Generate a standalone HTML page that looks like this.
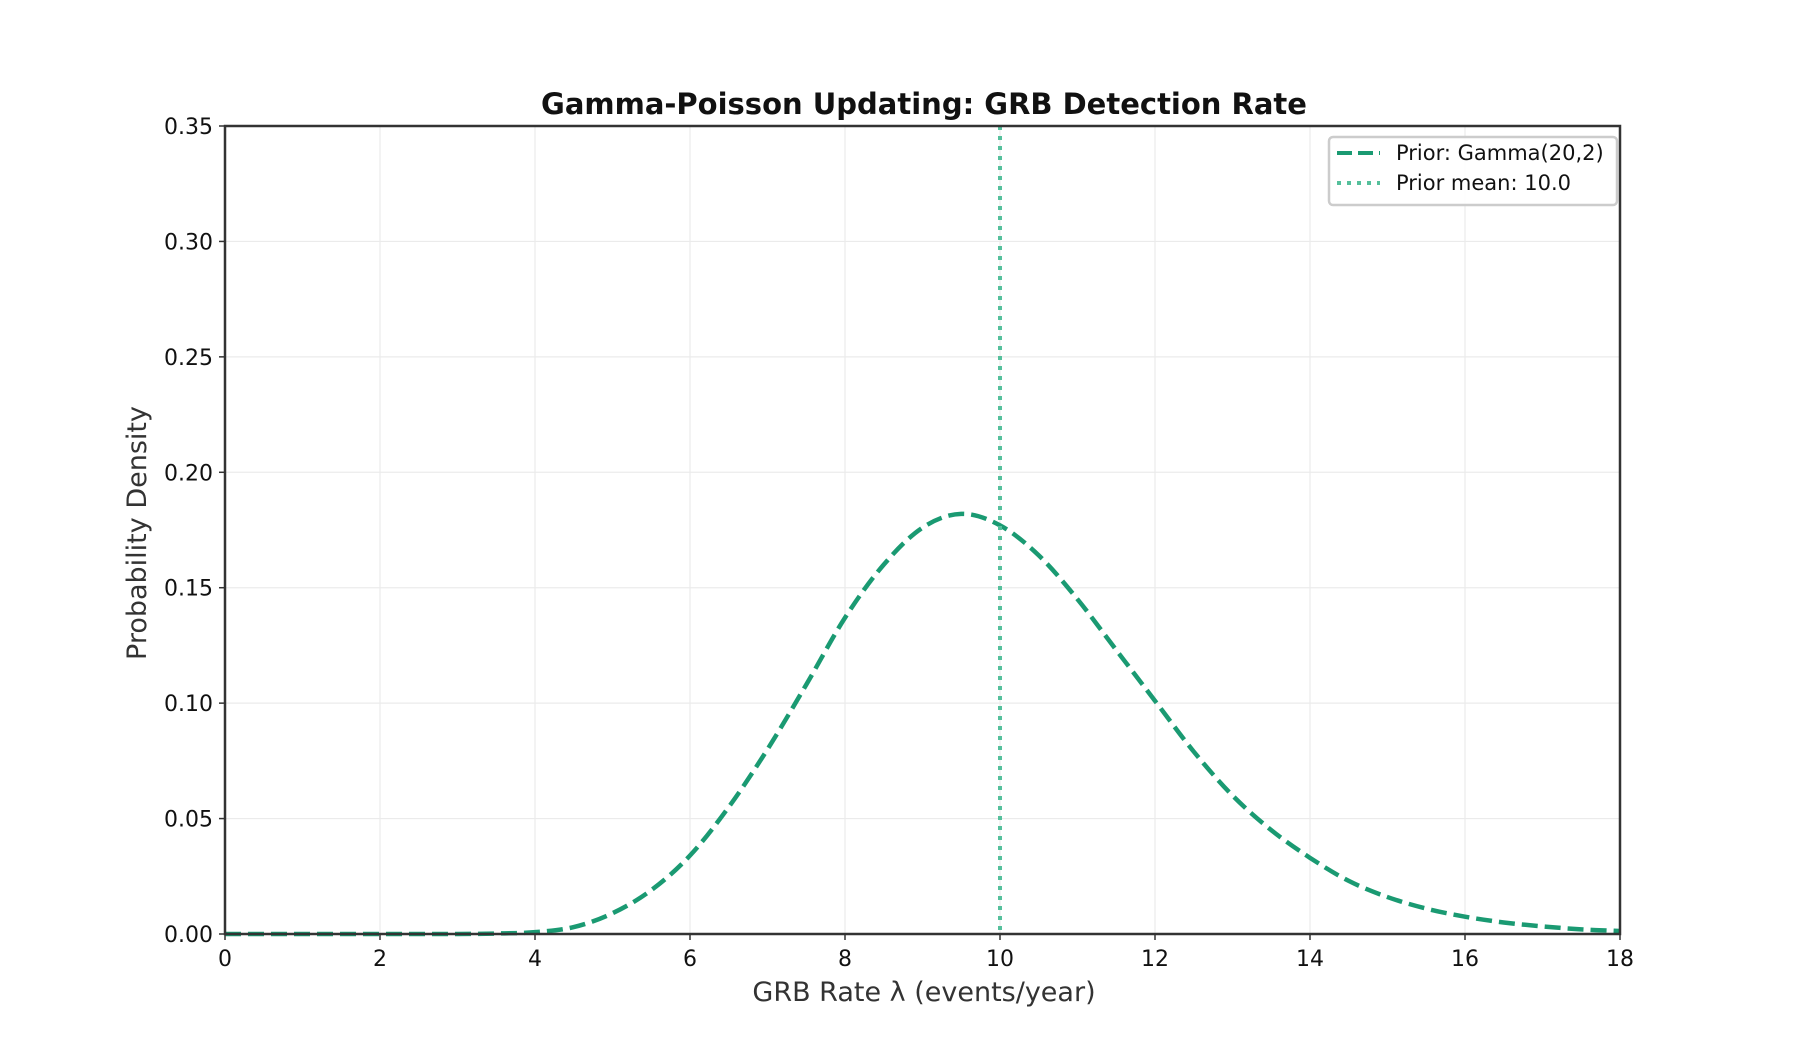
<!DOCTYPE html>
<html><head><meta charset="utf-8"><style>
html,body{margin:0;padding:0;background:#fff;}
svg{display:block;font-family:"DejaVu Sans","Liberation Sans",sans-serif;}
</style></head><body>
<svg id="chart" width="1800" height="1050" viewBox="0 0 1800 1050">
<rect width="1800" height="1050" fill="#fff"/>
<g id="grid"></g>
<g id="series"></g>
<rect x="225" y="126" width="1395" height="808" fill="none" stroke="#333" stroke-width="2.5"/>
<g id="ticks"></g>
<text x="924" y="114" text-anchor="middle" font-size="29" font-weight="bold" fill="#111">Gamma-Poisson Updating: GRB Detection Rate</text>
<text x="924" y="1001" text-anchor="middle" font-size="27" fill="#333">GRB Rate λ (events/year)</text>
<text x="0" y="0" transform="translate(146,533) rotate(-90)" text-anchor="middle" font-size="27" fill="#333">Probability Density</text>
<g>
<rect x="1329" y="137" width="288" height="68" rx="4" fill="#fff" fill-opacity="0.85" stroke="#ccc" stroke-width="2.5"/>
<line x1="1337" y1="153" x2="1380" y2="153" stroke="#1a9a72" stroke-width="4" stroke-dasharray="15,6"/>
<text x="1396" y="160" font-size="21" fill="#111">Prior: Gamma(20,2)</text>
<line x1="1337" y1="183" x2="1380" y2="183" stroke="#55c09c" stroke-width="4" stroke-dasharray="4,6"/>
<text x="1396" y="190" font-size="21" fill="#111">Prior mean: 10.0</text>
</g>
</svg>
<script>
const xs = [0,0.5,1,1.5,2,2.5,3,3.5,4,4.5,5,5.5,6,6.5,7,7.5,8,8.5,9,9.5,10,10.5,11,11.5,12,12.5,13,13.5,14,14.5,15,15.5,16,16.5,17,17.5,18];
const priorDensity = [0,0,0,0,0,0,0,0.0002,0.0008,0.003,0.009,0.019,0.034,0.055,0.080,0.108,0.137,0.160,0.176,0.182,0.177,0.164,0.145,0.123,0.101,0.079,0.060,0.045,0.033,0.023,0.016,0.011,0.0075,0.005,0.0033,0.002,0.0013];
const priorMean = [10.0];
const xTicks = [0,2,4,6,8,10,12,14,16,18];
const yTicks = [0,0.05,0.10,0.15,0.20,0.25,0.30,0.35];
const yTickLabels = ["0.00","0.05","0.10","0.15","0.20","0.25","0.30","0.35"];

const X0=225,X1=1620,Y0=934,Y1=126;
const sx=v=>X0+(v-0)/(18-0)*(X1-X0);
const sy=v=>Y0-(v-0)/(0.35-0)*(Y0-Y1);
const NS='http://www.w3.org/2000/svg';
const mk=(t,a,p)=>{const e=document.createElementNS(NS,t);for(const k in a)e.setAttribute(k,a[k]);p.appendChild(e);return e;};
const grid=document.getElementById('grid'),ticks=document.getElementById('ticks'),series=document.getElementById('series');

xTicks.forEach(v=>{
  const g=mk('line',{x1:sx(v),x2:sx(v),y1:Y1,y2:Y0,stroke:'#ebebeb','stroke-width':1.2},grid);
  
  
  const t=mk('line',{x1:sx(v),x2:sx(v),y1:Y0,y2:Y0+6,stroke:'#333','stroke-width':1.5},ticks);
  
  
  const l=mk('text',{x:sx(v),y:Y0+32,'text-anchor':'middle','font-size':22,fill:'#111'},ticks);
  l.textContent=v;
  
  
});
yTicks.forEach((v,i)=>{
  const g=mk('line',{x1:X0,x2:X1,y1:sy(v),y2:sy(v),stroke:'#ebebeb','stroke-width':1.2},grid);
  
  
  const t=mk('line',{x1:X0-6,x2:X0,y1:sy(v),y2:sy(v),stroke:'#333','stroke-width':1.5},ticks);
  
  
  const l=mk('text',{x:X0-12,y:sy(v)+8,'text-anchor':'end','font-size':22,fill:'#111'},ticks);
  l.textContent=yTickLabels[i];
  
  
});

const pts=xs.map((x,i)=>[sx(x),sy(priorDensity[i])]);
let d='M'+pts[0][0]+','+pts[0][1];
for(let i=0;i<pts.length-1;i++){
  const p0=pts[Math.max(0,i-1)],p1=pts[i],p2=pts[i+1],p3=pts[Math.min(pts.length-1,i+2)];
  const c1=[p1[0]+(p2[0]-p0[0])/6,p1[1]+(p2[1]-p0[1])/6];
  const c2=[p2[0]-(p3[0]-p1[0])/6,p2[1]-(p3[1]-p1[1])/6];
  d+=' C'+c1[0]+','+c1[1]+' '+c2[0]+','+c2[1]+' '+p2[0]+','+p2[1];
}
const curve=mk('path',{d:d,fill:'none',stroke:'#1a9a72','stroke-width':4.5,'stroke-dasharray':'16,7'},series);



priorMean.forEach(m=>{
  const ml=mk('line',{x1:sx(m),x2:sx(m),y1:Y1,y2:Y0,stroke:'#55c09c','stroke-width':4,'stroke-dasharray':'4,6'},series);
  
  
});
</script>
</body></html>
